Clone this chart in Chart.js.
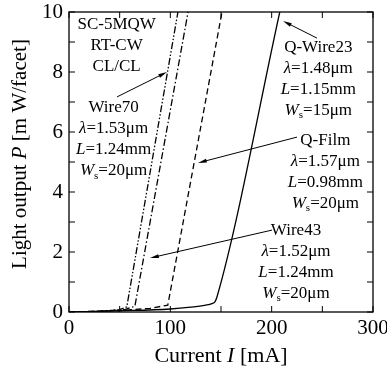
<!DOCTYPE html>
<html>
<head>
<meta charset="utf-8">
<script src="https://cdn.jsdelivr.net/npm/chart.js@4.4.0/dist/chart.umd.min.js"></script>
<style>
  html, body { margin: 0; padding: 0; background: #fff; }
  #wrap { width: 387px; height: 371px; }
</style>
</head>
<body>
<div id="wrap"><canvas id="liChart"></canvas></div>
<script>
// L-I curves: current [mA] vs light output [mW/facet]
const wire70I = [0, 30, 50, 57, 107.5];
const wire70P = [0, 0.02, 0.08, 0.17, 10];

const wire43I = [0, 30, 55, 65, 117.5];
const wire43P = [0, 0.02, 0.08, 0.19, 10];

const qFilmI = [0, 50, 80, 97.5, 151];
const qFilmP = [0, 0.05, 0.12, 0.23, 10];

const qWire23I = [0, 50, 100, 120, 135, 141, 144, 146, 208];
const qWire23P = [0, 0.04, 0.1, 0.16, 0.23, 0.28, 0.34, 0.5, 10];

const xTicks = [0, 100, 200, 300];
const yTicks = [0, 2, 4, 6, 8, 10];

const serif = 'Liberation Serif';

function pts(xs, ys) {
    return xs.map((x, i) => ({ x: x, y: ys[i] }));
}

// text blocks and arrows (positions in data units)
const notes = [
    { x: 47, y: 9.57, lines: [[['SC-5MQW']], [['RT-CW']], [['CL/CL']]] },
    { x: 44, y: 6.8, lines: [[['Wire70']], [['λ', 'i'], ['=1.53μm']], [['L', 'i'], ['=1.24mm']], [['W', 'i'], ['s', 's'], ['=20μm']]] },
    { x: 246, y: 8.83, lines: [[['Q-Wire23']], [['λ', 'i'], ['=1.48μm']], [['L', 'i'], ['=1.15mm']], [['W', 'i'], ['s', 's'], ['=15μm']]] },
    { x: 253, y: 5.73, lines: [[['Q-Film']], [['λ', 'i'], ['=1.57μm']], [['L', 'i'], ['=0.98mm']], [['W', 'i'], ['s', 's'], ['=20μm']]] },
    { x: 224, y: 2.73, lines: [[['Wire43']], [['λ', 'i'], ['=1.52μm']], [['L', 'i'], ['=1.24mm']], [['W', 'i'], ['s', 's'], ['=20μm']]] }
];
const arrows = [
    [47.4, 7.17, 96.7, 8.0],
    [244.7, 9.13, 211.2, 9.7],
    [225, 5.83, 127.3, 4.97],
    [200.3, 2.73, 80, 1.8]
];

function segFont(st) {
    if (st === 'i') return 'italic 17px ' + serif;
    if (st === 's') return '11px ' + serif;
    return '17px ' + serif;
}

function richWidth(ctx, segs) {
    let w = 0;
    segs.forEach(s => {
        ctx.font = segFont(s[1]);
        w += ctx.measureText(s[0]).width;
    });
    return w;
}

function drawRich(ctx, segs, cx, cy, size) {
    let w = 0;
    segs.forEach(s => {
        ctx.font = (s[1] === 'I' ? 'italic ' : '') + size + 'px ' + serif;
        w += ctx.measureText(s[0]).width;
    });
    let x = cx - w / 2;
    ctx.textAlign = 'left';
    segs.forEach(s => {
        ctx.font = (s[1] === 'I' ? 'italic ' : '') + size + 'px ' + serif;
        ctx.fillText(s[0], x, cy);
        x += ctx.measureText(s[0]).width;
    });
}

const decor = {
    id: 'decor',
    afterDraw(chart) {
        const ctx = chart.ctx;
        const a = chart.chartArea;
        const xs = chart.scales.x, ys = chart.scales.y;
        ctx.save();
        ctx.strokeStyle = '#000';
        ctx.fillStyle = '#000';
        ctx.lineWidth = 1.3;
        ctx.setLineDash([]);
        ctx.strokeRect(a.left, a.top, a.right - a.left, a.bottom - a.top);

        // inward ticks on all four sides
        ctx.lineWidth = 1;
        ctx.beginPath();
        xs.ticks.forEach(t => {
            const px = xs.getPixelForValue(t.value);
            ctx.moveTo(px, a.bottom); ctx.lineTo(px, a.bottom - 6);
            ctx.moveTo(px, a.top); ctx.lineTo(px, a.top + 6);
        });
        ys.ticks.forEach(t => {
            const py = ys.getPixelForValue(t.value);
            ctx.moveTo(a.left, py); ctx.lineTo(a.left + 6, py);
            ctx.moveTo(a.right, py); ctx.lineTo(a.right - 6, py);
        });
        ctx.stroke();

        // axis titles
        ctx.textBaseline = 'middle';
        drawRich(ctx, [['Current '], ['I', 'I'], [' [mA]']], (a.left + a.right) / 2, 356, 22);
        ctx.save();
        ctx.translate(20, 154);
        ctx.rotate(-Math.PI / 2);
        drawRich(ctx, [['Light output '], ['P', 'I'], [' [m W/facet]']], 0, 0, 21);
        ctx.restore();

        // labels
        notes.forEach(n => {
            const cx = xs.getPixelForValue(n.x);
            let cy = ys.getPixelForValue(n.y);
            n.lines.forEach(segs => {
                const w = richWidth(ctx, segs);
                let x = cx - w / 2;
                segs.forEach(s => {
                    ctx.font = segFont(s[1]);
                    ctx.textAlign = 'left';
                    ctx.fillText(s[0], x, s[1] === 's' ? cy + 5 : cy);
                    x += ctx.measureText(s[0]).width;
                });
                cy += 21;
            });
        });

        // arrows
        ctx.lineWidth = 1;
        arrows.forEach(r => {
            const x0 = xs.getPixelForValue(r[0]), y0 = ys.getPixelForValue(r[1]);
            const x1 = xs.getPixelForValue(r[2]), y1 = ys.getPixelForValue(r[3]);
            const ang = Math.atan2(y1 - y0, x1 - x0);
            ctx.beginPath();
            ctx.moveTo(x0, y0);
            ctx.lineTo(x1 - 6 * Math.cos(ang), y1 - 6 * Math.sin(ang));
            ctx.stroke();
            ctx.beginPath();
            ctx.moveTo(x1, y1);
            ctx.lineTo(x1 - 9 * Math.cos(ang - 0.22), y1 - 9 * Math.sin(ang - 0.22));
            ctx.lineTo(x1 - 9 * Math.cos(ang + 0.22), y1 - 9 * Math.sin(ang + 0.22));
            ctx.closePath();
            ctx.fill();
        });
        ctx.restore();
    }
};

const liCtx = document.getElementById('liChart').getContext('2d');
const liChart = new Chart(liCtx, {
    type: 'line',
    data: {
        datasets: [
            { label: 'Wire70', data: pts(wire70I, wire70P), borderDash: [7, 2, 1.5, 2, 1.5, 2] },
            { label: 'Wire43', data: pts(wire43I, wire43P), borderDash: [7, 2.5, 1.5, 2.5] },
            { label: 'Q-Film', data: pts(qFilmI, qFilmP), borderDash: [6, 3.5] },
            { label: 'Q-Wire23', data: pts(qWire23I, qWire23P), borderDash: [], cubicInterpolationMode: 'monotone' }
        ].map(d => Object.assign({
            borderColor: '#000',
            borderWidth: 1.3,
            pointRadius: 0,
            fill: false,
            tension: 0
        }, d))
    },
    options: {
        responsive: true,
        maintainAspectRatio: false,
        animation: false,
        devicePixelRatio: 1,
        layout: { padding: { top: 12, right: 0, left: 0, bottom: 0 } },
        plugins: {
            legend: { display: false },
            tooltip: { enabled: false }
        },
        scales: {
            x: {
                type: 'linear',
                min: 0,
                max: 300,
                ticks: {
                    stepSize: 50,
                    autoSkip: false,
                    maxRotation: 0,
                    padding: 4,
                    color: '#000',
                    font: { family: serif, size: 21 },
                    callback: v => xTicks.includes(v) ? v : ''
                },
                grid: { display: false, drawTicks: false },
                border: { display: false },
                afterFit(s) {
                    s.height = 59;
                    s.paddingLeft = 0;
                    s.paddingRight = 14;
                }
            },
            y: {
                min: 0,
                max: 10,
                ticks: {
                    stepSize: 1,
                    autoSkip: false,
                    padding: 6,
                    color: '#000',
                    font: { family: serif, size: 21 },
                    callback: v => yTicks.includes(v) ? v : ''
                },
                grid: { display: false, drawTicks: false },
                border: { display: false },
                afterFit(s) {
                    s.width = 69;
                    s.paddingTop = 0;
                    s.paddingBottom = 0;
                }
            }
        }
    },
    plugins: [decor]
});
</script>
</body>
</html>
